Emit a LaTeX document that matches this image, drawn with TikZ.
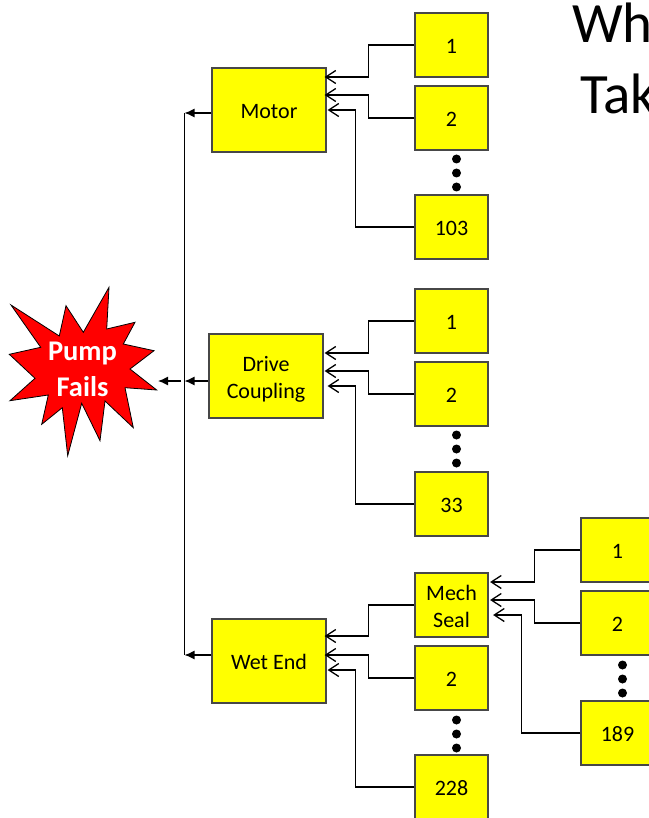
\documentclass[tikz,border=0pt]{standalone}
\usepackage{fontspec}
\setmainfont{Carlito}
\usetikzlibrary{arrows.meta}
\definecolor{cellfill}{RGB}{255,255,0}
\tikzset{
  cell/.style={draw=black!72,line width=1.2pt,fill=cellfill,minimum width=73pt,minimum height=64pt,inner sep=0pt,align=center,text height=17pt,text depth=0pt,font=\fontsize{22}{27}\selectfont},
  twoline/.style={text height=44pt,text depth=0pt},
  bigcell/.style={cell,minimum width=114pt,minimum height=84pt},
  feed/.style={line width=1.3pt,-{Straight Barb[length=10pt,width=13pt,line width=1.3pt]}},
  bus/.style={line width=1.3pt,-{Latex[length=10pt,width=9pt]}},
  title/.style={anchor=base west,inner sep=0pt,font=\fontsize{57}{57}\selectfont}
}
\begin{document}
\begin{tikzpicture}[x=1pt,y=-1pt]
\useasboundingbox (0,0) rectangle (648,818);
% title
\node[title] (what) at (572,43) {Wh};
\node[title] (take) at (580,114) {Tak};
% star
\draw[fill=red,draw=black,line width=.8pt] (109,287.3)--(106.7,329)--(135,322.3)--(123.3,344)--(154,350.7)--(130,369)--(156.7,390)--(125,387.7)--(133.3,427.7)--(105,401)--(100,440.7)--(81.7,403.3)--(67.7,455.7)--(62.3,407.7)--(41.7,424.3)--(48.3,395)--(10,400.7)--(35,378.3)--(9.3,354.3)--(40.7,347.3)--(11,305)--(59.3,336)--(66,305.7)--(83.3,332.3)--cycle;
\node[inner sep=0pt,align=center,text=white,font=\fontsize{28.5}{36}\bfseries\selectfont] (pump) at (82.5,369) {Pump\\Fails};
\coordinate (pumpin) at (158,381);
% main boxes
\node[bigcell] (motor) at (269,110) {Motor};
\node[bigcell,twoline] (coupling) at (266,376) {Drive\\Coupling};
\node[bigcell] (wetend) at (269,661) {Wet End};
% motor parts
\node[cell] (motora) at (451.5,45) {1};
\node[cell] (motorb) at (451.5,118) {2};
\node[cell] (motorc) at (451.5,227) {103};
% coupling parts
\node[cell] (couplinga) at (451.5,321) {1};
\node[cell] (couplingb) at (451.5,394) {2};
\node[cell] (couplingc) at (451.5,504) {33};
% wet end parts
\node[cell,twoline] (seal) at (451.5,605) {Mech\\Seal};
\node[cell] (wetendb) at (451.5,678) {2};
\node[cell] (wetendc) at (451.5,787) {228};
% seal parts
\node[cell] (seala) at (617.5,550) {1};
\node[cell] (sealb) at (617.5,623) {2};
\node[cell] (sealc) at (617.5,733) {189};
% dots
\foreach \x/\y in {456.5/159,456.5/435,456.5/720,622.5/665}
  \foreach \d in {0,14,28}
    \fill (\x,\y+\d) circle (4.5);
% connectors
\draw[feed] (motora.west) -- ++(-46,0) |- ([xshift=-2pt,yshift=33pt]motor.east);
\draw[feed] (motorb.west) -- ++(-46,0) |- ([xshift=-2pt,yshift=15pt]motor.east);
\draw[feed] (motorc.west) -- ++(-59,0) |- ([xshift=1pt]motor.east);
\draw[feed] (couplinga.west) -- ++(-46,0) |- ([xshift=1pt,yshift=23pt]coupling.east);
\draw[feed] (couplingb.west) -- ++(-46,0) |- ([xshift=1pt,yshift=5pt]coupling.east);
\draw[feed] (couplingc.west) -- ++(-59,0) |- ([xshift=4pt,yshift=-10pt]coupling.east);
\draw[feed] (seal.west) -- ++(-46,0) |- ([xshift=-2pt,yshift=25pt]wetend.east);
\draw[feed] (wetendb.west) -- ++(-46,0) |- ([xshift=-2pt,yshift=6pt]wetend.east);
\draw[feed] (wetendc.west) -- ++(-59,0) |- ([xshift=1pt,yshift=-9pt]wetend.east);
\draw[feed] (seala.west) -- ++(-46,0) |- ([xshift=1.5pt,yshift=23pt]seal.east);
\draw[feed] (sealb.west) -- ++(-46,0) |- ([xshift=1.5pt,yshift=5pt]seal.east);
\draw[feed] (sealc.west) -- ++(-59,0) |- ([xshift=4.5pt,yshift=-10pt]seal.east);
% bus
\coordinate (bustop) at (184.5,113);
\coordinate (busmid) at (184.5,381);
\coordinate (busend) at (184.5,655);
\draw[line width=1.3pt] (bustop) -- (busend);
\draw[bus] ([yshift=-3pt]motor.west) -- (bustop);
\draw[bus] ([yshift=-5pt]coupling.west) -- (busmid);
\draw[bus] ([yshift=6pt]wetend.west) -- (busend);
\draw[bus] (181,381) -- (pumpin);
\end{tikzpicture}
\end{document}
